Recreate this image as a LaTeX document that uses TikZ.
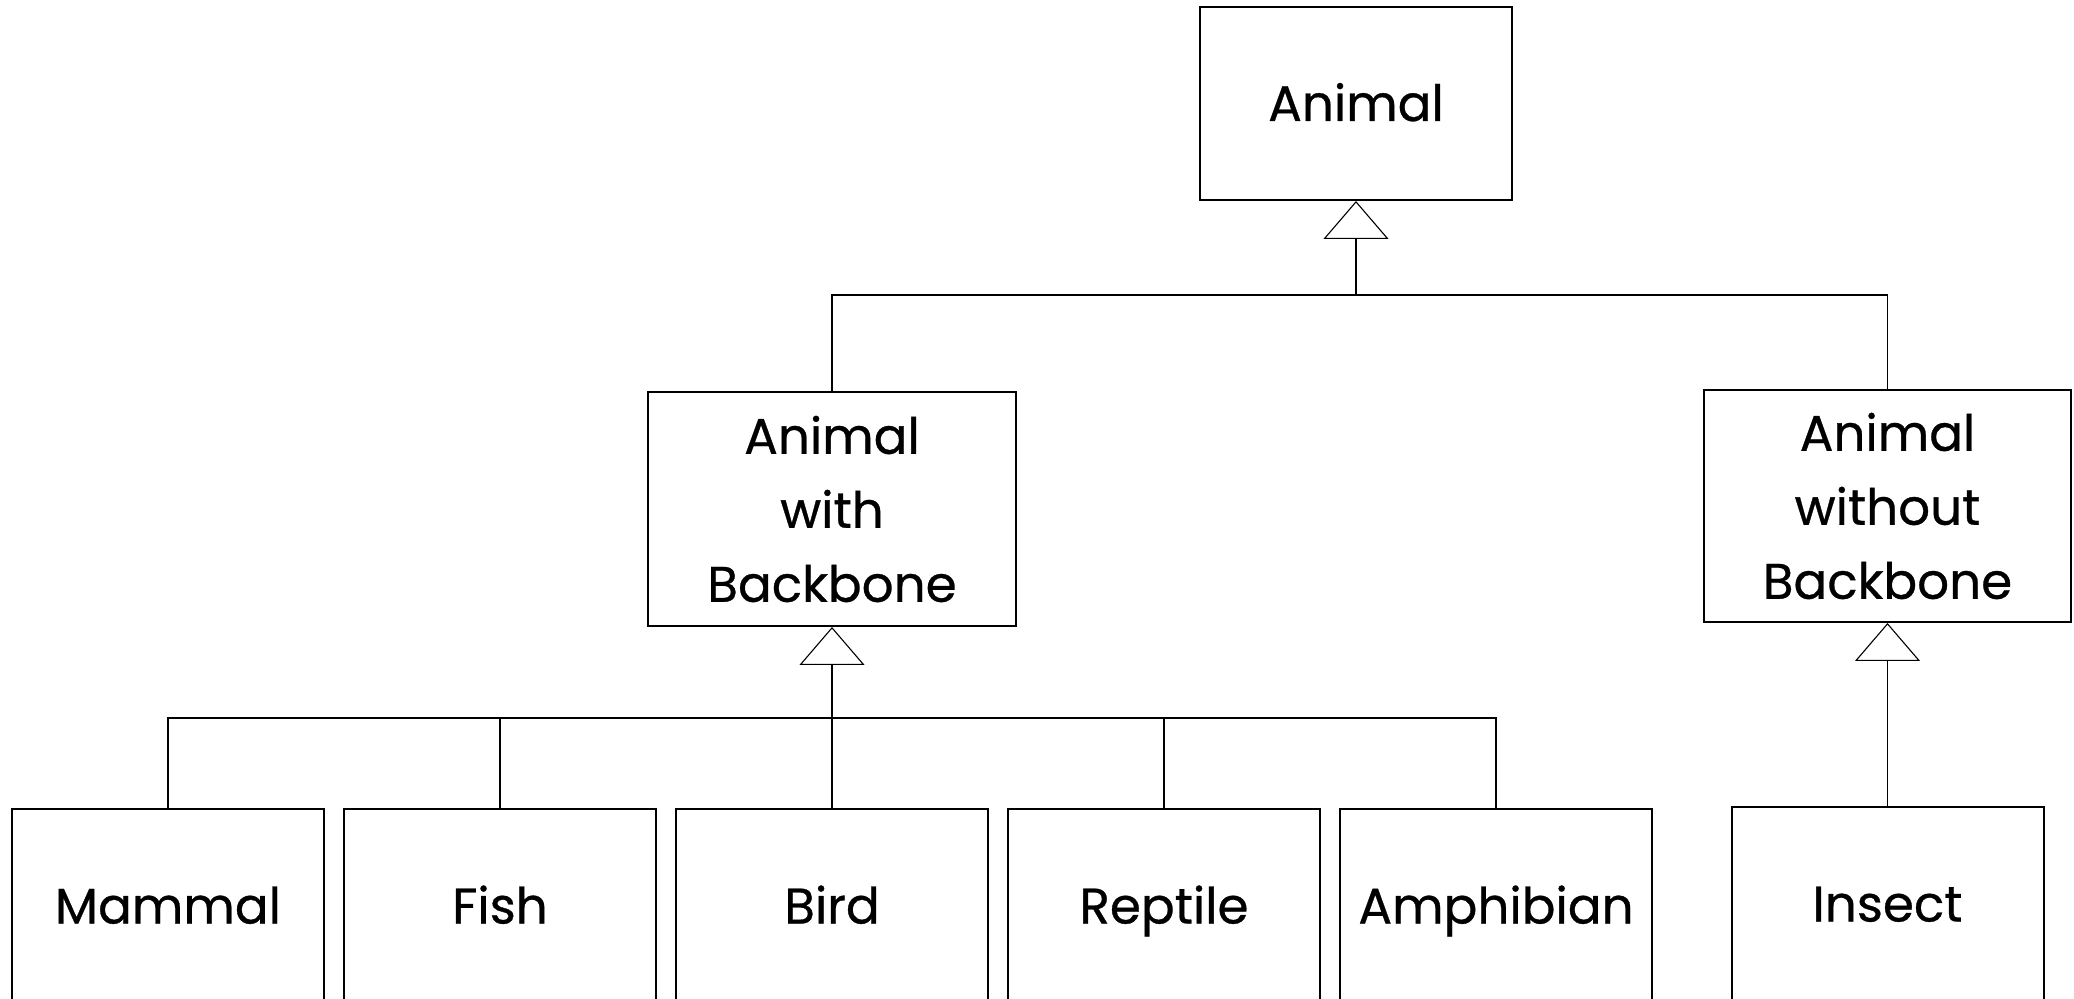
\documentclass[tikz,border=0pt]{standalone}
\usepackage{fontspec}
\setmainfont{Poppins}[FakeBold=0.6]
\usetikzlibrary{arrows.meta}
\begin{document}
\begin{tikzpicture}[x=0.5pt,y=-0.5pt,
  box/.style={draw=black, line width=1pt, fill=white, align=center, inner sep=0pt,
    font=\fontsize{25}{37}\selectfont, text=black},
  oneline/.style={box, text height=20pt, text depth=2.5pt},
  leaf/.style={oneline, minimum width=156pt, minimum height=97pt},
  link/.style={draw=black, line width=0.55pt},
  gen/.style={link, -{Triangle[open, length=19pt, width=32.5pt, line width=0.55pt]}}]
\useasboundingbox (0,0) rectangle (2074,999);
\clip (0,0) rectangle (2074,999);

% class boxes
\node[oneline, minimum width=156pt, minimum height=96.5pt] (animal) at (1356,103.5) {Animal};
\node[box, minimum width=184pt, minimum height=117pt] (wb) at (832,509) {Animal\\with\\Backbone};
\node[box, minimum width=183.5pt, minimum height=116pt] (nb) at (1887.5,506) {Animal\\without\\Backbone};

\node[leaf] (mammal)    at (168,906)  {Mammal};
\node[leaf] (fish)      at (500,906)  {Fish};
\node[leaf] (bird)      at (832,906)  {Bird};
\node[leaf] (reptile)   at (1164,906) {Reptile};
\node[leaf] (amphibian) at (1496,906) {Amphibian};
\node[leaf] (insect)    at (1887.5,904) {Insect};

% junction points of the generalisation trees
\coordinate (j1) at (1356,295);
\coordinate (j2) at (832,718);

% Animal
\draw[link] (wb.north) |- (j1);
\draw[link] (nb.north) |- (j1);
\draw[gen] (j1) -- (animal.south);

% Animal with Backbone
\foreach \n in {mammal,fish,bird,reptile,amphibian}
  \draw[link] (\n.north) |- (j2);
\draw[gen] (j2) -- (wb.south);

% Animal without Backbone
\draw[gen] (insect.north) -- (nb.south);
\end{tikzpicture}
\end{document}
